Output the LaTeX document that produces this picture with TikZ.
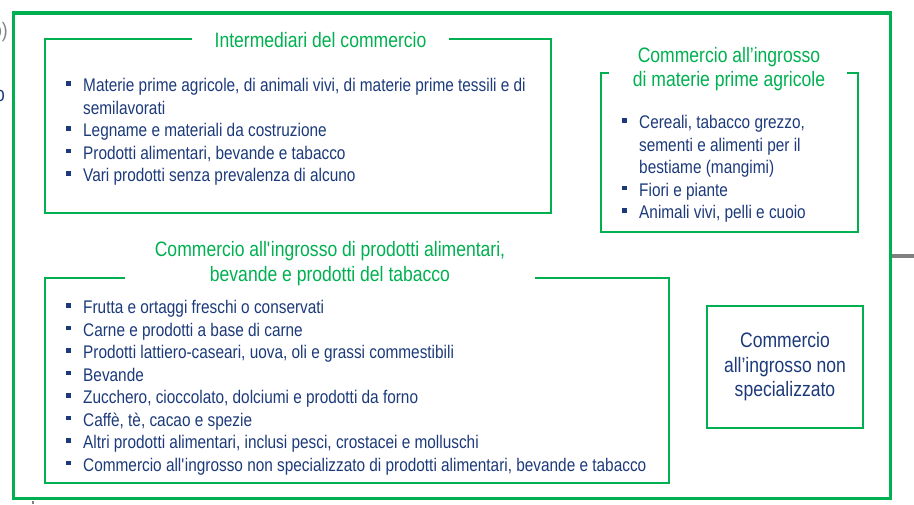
\documentclass[tikz,border=0pt]{standalone}
\usepackage{fontspec}
\setmainfont{Liberation Sans}[FakeStretch=0.84]

\definecolor{frame}{RGB}{0,176,80}
\definecolor{navy}{RGB}{28,58,122}
\definecolor{stub}{RGB}{128,128,128}

% square bullet in front of a list item
\newcommand{\itm}[1]{\llap{\rule[6pt]{4.5pt}{4.5pt}\hspace{12.5pt}}#1}
\newcommand{\sq}{\textquotesingle}

\begin{document}
\begin{tikzpicture}[x=1pt, y=-1pt,
    every node/.style={inner sep=0pt},
    item/.style={anchor=base west, text=navy, font=\fontsize{18.3}{22.5}\selectfont},
    title/.style={anchor=base, text=frame, font=\fontsize{20.9}{24}\selectfont},
    box/.style={draw=frame, line width=2pt}]

        \useasboundingbox (0,0) rectangle (914,504);
        \clip (0,0) rectangle (914,504);

        % Define corners of the outer frame
        \coordinate (O_1) at (13.5,13);
        \coordinate (O_2) at (890.5,498.5);
        \coordinate (S) at (914,256);

        % Define corners of the three titled boxes
        \coordinate (A_1) at (44.5,38.5);
        \coordinate (A_2) at (550.5,212.5);
        \coordinate (B_1) at (600.5,72.5);
        \coordinate (B_2) at (857.5,231.5);
        \coordinate (C_1) at (44.5,277.5);
        \coordinate (C_2) at (669,482.5);

        % Cut-off bits of the slide around the frame
        \node[text=stub, font=\fontsize{20.9}{24}\selectfont] (cut_1) at (0,32) {o)};
        \node[text=navy, font=\fontsize{20.9}{24}\selectfont] (cut_2) at (0,96) {o};
        \draw[stub, line width=3.5pt] (O_2 |- S) -- (S);
        \draw[stub, line width=1.5pt] (33,501) -- (33,504);

        % Outer frame
        \draw[frame, line width=3.5pt] (O_1) rectangle (O_2);

        % Box frames, open where the title sits
        \draw[box] (192,38.5) -- (A_1) -- (A_1 |- A_2) -- (A_2) -- (A_2 |- A_1) -- (449,38.5);
        \draw[box] (609,72.5) -- (B_1) -- (B_1 |- B_2) -- (B_2) -- (B_2 |- B_1) -- (847,72.5);
        \draw[box] (125,277.5) -- (C_1) -- (C_1 |- C_2) -- (C_2) -- (C_2 |- C_1) -- (535,277.5);

        % Titles
        \node[title] (t_1) at (320.5,47) {Intermediari del commercio};
        \node[title] (t_2a) at (729,62) {Commercio all’ingrosso};
        \node[title] (t_2b) at (729,86.5) {di materie prime agricole};
        \node[title] (t_3a) at (330,256.5) {Commercio all\sq ingrosso di prodotti alimentari,};
        \node[title] (t_3b) at (330,281.5) {bevande e prodotti del tabacco};

        % Items of the first box
        \node[item] (a_1) at (83,91.5) {\itm{Materie prime agricole, di animali vivi, di materie prime tessili e di}};
        \node[item] (a_1b) at (83,114) {semilavorati};
        \node[item] (a_2) at (83,136.5) {\itm{Legname e materiali da costruzione}};
        \node[item] (a_3) at (83,159) {\itm{Prodotti alimentari, bevande e tabacco}};
        \node[item] (a_4) at (83,181.5) {\itm{Vari prodotti senza prevalenza di alcuno}};

        % Items of the second box
        \node[item] (b_1) at (639,128.5) {\itm{Cereali, tabacco grezzo,}};
        \node[item] (b_1b) at (639,151) {sementi e alimenti per il};
        \node[item] (b_1c) at (639,173.5) {bestiame (mangimi)};
        \node[item] (b_2) at (639,196) {\itm{Fiori e piante}};
        \node[item] (b_3) at (639,218.5) {\itm{Animali vivi, pelli e cuoio}};

        % Items of the third box
        \node[item] (c_1) at (83,313.5) {\itm{Frutta e ortaggi freschi o conservati}};
        \node[item] (c_2) at (83,336) {\itm{Carne e prodotti a base di carne}};
        \node[item] (c_3) at (83,358.5) {\itm{Prodotti lattiero-caseari, uova, oli e grassi commestibili}};
        \node[item] (c_4) at (83,381) {\itm{Bevande}};
        \node[item] (c_5) at (83,403.5) {\itm{Zucchero, cioccolato, dolciumi e prodotti da forno}};
        \node[item] (c_6) at (83,426) {\itm{Caffè, tè, cacao e spezie}};
        \node[item] (c_7) at (83,448.5) {\itm{Altri prodotti alimentari, inclusi pesci, crostacei e molluschi}};
        \node[item] (c_8) at (83,471) {\itm{Commercio all\sq ingrosso non specializzato di prodotti alimentari, bevande e tabacco}};

        % Box without list
        \node[box, minimum width=156pt, minimum height=122pt, align=center, text=navy,
              font=\fontsize{20.9}{24.5}\selectfont] (nonspec) at (785,367)
              {Commercio\\all’ingrosso non\\specializzato};

    \end{tikzpicture}
\end{document}
